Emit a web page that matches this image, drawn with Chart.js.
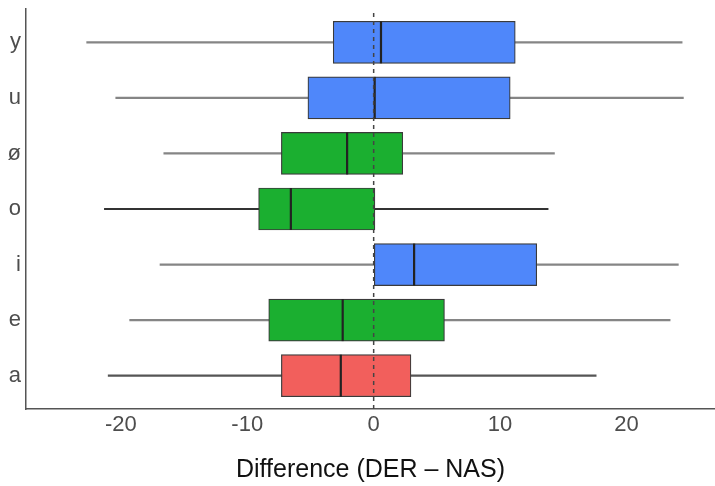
<!DOCTYPE html>
<html>
<head>
<meta charset="utf-8">
<script src="https://cdn.jsdelivr.net/npm/chart.js@4"></script>
<style>
  body { margin: 0; background: #fff; }
  #wrap { width: 715px; height: 486px; }
</style>
</head>
<body>
<div id="wrap"><canvas id="boxChart"></canvas></div>
<script>
// vowels from bottom (a) to top (y)
const vowels = ['a', 'e', 'i', 'o', 'ø', 'u', 'y']
const rowPos = [1, 2, 3, 4, 5, 6, 7]
const whiskerLow = [-21.0, -19.3, -16.9, -21.3, -16.6, -20.4, -22.7]
const q1 = [-7.3, -8.3, 0.05, -9.1, -7.3, -5.2, -3.2]
const median = [-2.6, -2.45, 3.2, -6.55, -2.1, 0.08, 0.58]
const q3 = [2.95, 5.6, 12.9, 0.1, 2.3, 10.8, 11.2]
const whiskerHigh = [17.6, 23.45, 24.1, 13.8, 14.3, 24.5, 24.4]
const boxColors = ['#F25F5C', '#1BAF30', '#4F87FA', '#1BAF30', '#1BAF30', '#4F87FA', '#4F87FA']
const xTicks = [-20, -10, 0, 10, 20]

const font = 'Liberation Sans, Arial, sans-serif'

const whiskerData = rowPos.map((p, i) => ({ x: [whiskerLow[i], whiskerHigh[i]], y: p }))
const boxData = rowPos.map((p, i) => ({ x: [q1[i], q3[i]], y: p }))
const medianData = rowPos.map((p, i) => ({ x: median[i], y: p }))
const zeroLine = [{ x: 0, y: 0.4 }, { x: 0, y: 7.6 }]

new Chart(document.getElementById('boxChart'), {
  type: 'bar',
  data: {
    datasets: [
      {
        type: 'line',
        data: zeroLine,
        borderColor: '#444',
        borderWidth: 1.5,
        borderDash: [4, 4],
        pointRadius: 0,
        order: 1,
      },
      {
        type: 'line',
        data: medianData,
        showLine: false,
        pointStyle: 'line',
        rotation: 90,
        pointRadius: 21,
        pointBorderWidth: 2.2,
        pointBorderColor: '#222',
        borderColor: '#222',
        order: 2,
      },
      {
        data: boxData,
        backgroundColor: boxColors,
        borderColor: '#3a3a3a',
        borderWidth: 1.2,
        borderSkipped: false,
        barThickness: 42,
        grouped: false,
        order: 3,
      },
      {
        data: whiskerData,
        // 'o' and 'a' whiskers come out darker in the original
        backgroundColor: (ctx) => {
          const v = vowels[ctx.dataIndex]
          return v === 'o' ? '#333' : v === 'a' ? '#555' : '#858585'
        },
        borderWidth: 0,
        barThickness: 1.5,
        grouped: false,
        order: 4,
      },
    ],
  },
  options: {
    indexAxis: 'y',
    responsive: true,
    maintainAspectRatio: false,
    animation: false,
    layout: { autoPadding: false, padding: { top: 9, right: 0, left: 0, bottom: 0 } },
    plugins: { legend: { display: false }, tooltip: { enabled: false } },
    scales: {
      x: {
        type: 'linear',
        min: -27.5,
        max: 27,
        afterBuildTicks: (s) => { s.ticks = xTicks.map((v) => ({ value: v })) },
        afterFit: (s) => {
          s.height = 77
          s.paddingLeft = 0
          s.paddingRight = 0
        },
        grid: { drawOnChartArea: false, drawTicks: false },
        border: { display: true, color: '#555', width: 1.5 },
        ticks: { padding: 3, color: '#4d4d4d', font: { family: font, size: 22 } },
        title: {
          display: true,
          text: 'Difference (DER – NAS)',
          color: '#111',
          font: { family: font, size: 25 },
          padding: { top: 0, bottom: 1 },
        },
      },
      y: {
        type: 'linear',
        offset: false,
        min: 0.4,
        max: 7.6,
        afterBuildTicks: (s) => { s.ticks = rowPos.map((v) => ({ value: v })) },
        afterFit: (s) => {
          s.width = 26
          s.paddingTop = 0
          s.paddingBottom = 0
        },
        grid: { drawOnChartArea: false, drawTicks: false },
        border: { display: true, color: '#555', width: 1.5 },
        ticks: {
          padding: 5,
          color: '#4d4d4d',
          font: { family: font, size: 22 },
          callback: (v) => vowels[rowPos.indexOf(v)],
        },
      },
    },
  },
})
</script>
</body>
</html>
